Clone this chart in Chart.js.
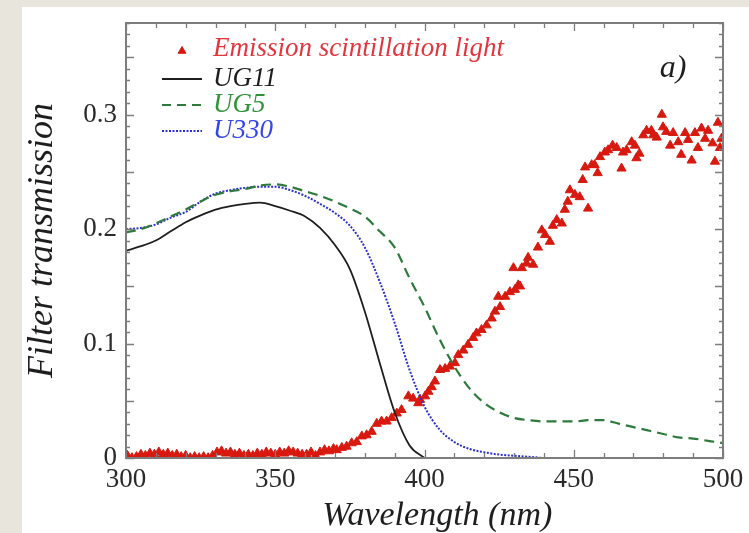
<!DOCTYPE html>
<html>
<head>
<meta charset="utf-8">
<script src="https://cdn.jsdelivr.net/npm/chart.js@4.4.0/dist/chart.umd.min.js"></script>
<style>
html, body { margin:0; padding:0; background:#e8e6dc; width:749px; height:533px; overflow:hidden; }
#panel { position:absolute; left:22px; top:7px; width:727px; height:526px; background:#fff; }
</style>
</head>
<body>
<div id="panel"><canvas id="chart" width="727" height="526"></canvas></div>
<script>
// filter curves (wavelength nm, transmission)
const ug11Wl = [300,305,310,315,320,325,330,335,340,345,350,355,360,365,370,375,380,385,390,395,400]
const ug11T = [0.181,0.185,0.190,0.198,0.206,0.212,0.217,0.220,0.222,0.223,0.220,0.216,0.211,0.201,0.186,0.165,0.128,0.083,0.040,0.011,0.000]

const ug5Wl = [300,305,310,315,320,325,330,335,340,345,350,355,360,365,370,375,380,385,390,395,400,405,410,415,420,425,430,435,440,445,450,455,460,465,470,475,480,485,490,495,500]
const ug5T = [0.197,0.200,0.205,0.211,0.217,0.224,0.230,0.233,0.235,0.238,0.239,0.237,0.233,0.229,0.224,0.218,0.211,0.198,0.184,0.157,0.132,0.104,0.080,0.061,0.048,0.040,0.035,0.033,0.032,0.032,0.032,0.033,0.033,0.030,0.027,0.024,0.021,0.018,0.017,0.015,0.013]

const u330Wl = [300,305,310,315,320,325,330,335,340,345,350,355,360,365,370,375,380,385,390,395,400,405,410,415,420,425,430,435,440]
const u330T = [0.200,0.201,0.204,0.210,0.215,0.224,0.231,0.234,0.236,0.237,0.237,0.234,0.229,0.222,0.214,0.203,0.184,0.154,0.118,0.077,0.045,0.025,0.014,0.008,0.005,0.003,0.002,0.001,0.000]

// emission scintillation light (measured points)
const emissionWl = [300.5,302,303.5,305,306.5,308,309.5,311,312.5,314,315.5,317,318.5,320,321.5,323,324.5,326,327.5,329,
330.5,332,333.5,335,336.5,338,339.5,341,342.5,344,345.5,347,348.5,350,351.5,353,354.5,356,357.5,
359,360.5,362,363.5,365,366.5,368,369.5,370.6,372.3,373.9,375.6,377.3,379,380.6,382.3,384,385.6,387.3,389,390.7,392.3,
394.6,396.2,397.9,398.5,400.2,401.3,402.4,403.5,405.2,406.9,408.5,410.2,411.3,413,414.6,416.3,417.4,419.1,420.8,422.5,
423.6,424.7,425.3,427,428.6,429.8,430.3,431.4,432,432.6,434.2,434.7,436.4,438,439.3,440.4,442,443,444.3,446,447,448,
448.7,450.4,452,453,453.8,454.8,456,457,458,458.8,460.4,461.5,463,464.4,466,466.5,467.7,469.4,470.5,471,472,473.3,
474.4,476,476.6,477.8,479.5,479.9,481,482.3,483.3,485,486,487.3,488.3,489.5,490.6,491.6,492.8,494,495,496.5,497.3,
498.3,499,499.5]
const emissionI = [0.002,0.000,0.001,0.003,0.002,0.004,0.003,0.005,0.003,0.004,0.002,0.003,0.001,0.002,0.000,0.001,0.000,0.001,0.000,0.002,
0.005,0.006,0.004,0.005,0.003,0.004,0.002,0.003,0.002,0.004,0.003,0.005,0.004,0.003,0.005,0.004,0.006,0.005,0.004,
0.003,0.003,0.005,0.002,0.005,0.007,0.006,0.008,0.007,0.009,0.010,0.013,0.014,0.019,0.020,0.023,0.030,0.032,0.032,0.035,0.039,0.042,
0.054,0.052,0.048,0.051,0.054,0.058,0.062,0.067,0.077,0.078,0.080,0.083,0.090,0.094,0.099,0.105,0.109,0.112,0.116,0.122,
0.128,0.141,0.132,0.141,0.145,0.166,0.147,0.151,0.150,0.166,0.170,0.175,0.169,0.184,0.199,0.195,0.189,0.203,0.208,0.205,0.217,0.224,
0.234,0.230,0.228,0.243,0.254,0.218,0.256,0.256,0.249,0.263,0.267,0.269,0.273,0.271,0.253,0.267,0.269,0.276,0.273,0.262,0.266,0.282,
0.286,0.286,0.282,0.280,0.300,0.289,0.285,0.273,0.284,0.276,0.265,0.284,0.278,0.260,0.284,0.271,0.288,0.279,0.286,0.275,0.259,
0.293,0.271,0.279]

const xTickLabels = [300, 350, 400, 450, 500]
const yTickLabels = [0, 0.1, 0.2, 0.3]

const legendNames = ["Emission scintillation light", "UG11", "UG5", "U330"]

const serif = "'Liberation Serif', 'DejaVu Serif', serif"

const toPoints = (xs, ys) => xs.map((x, i) => ({x: x, y: ys[i]}))


// frame with inward ticks on all four sides
const framePlugin = {
id: "frame",
afterDatasetsDraw(chart){

const ctx = chart.ctx
const {left, right, top, bottom} = chart.chartArea
const xs = chart.scales.x
const ys = chart.scales.y

ctx.save()
ctx.strokeStyle = "#7d7d7d"
ctx.lineWidth = 1.3
ctx.beginPath()

for (let v = 300; v <= 500; v += 10) {
const px = Math.round(xs.getPixelForValue(v)) + 0.5
const len = v % 50 === 0 ? 8 : 5
ctx.moveTo(px, bottom); ctx.lineTo(px, bottom - len)
ctx.moveTo(px, top); ctx.lineTo(px, top + len)
}

for (let i = 0; i <= 38; i++) {
const py = Math.round(ys.getPixelForValue(i / 100)) + 0.5
const len = i % 5 === 0 ? 8 : 4
ctx.moveTo(left, py); ctx.lineTo(left + len, py)
ctx.moveTo(right, py); ctx.lineTo(right - len, py)
}
ctx.stroke()

ctx.lineWidth = 2
ctx.strokeRect(left, top, right - left, bottom - top)
ctx.restore()

}
}


// legend inside the plot + panel label
const legendPlugin = {
id: "insideLegend",
afterDraw(chart){

const ctx = chart.ctx
const {left, top} = chart.chartArea
const rows = [top + 26, top + 56, top + 82, top + 108]
const textColors = ["#e2353e", "#1e1e1e", "#2f9438", "#3346e8"]

ctx.save()

// triangle marker
ctx.fillStyle = "#d8170f"
ctx.strokeStyle = "#d8170f"
Chart.helpers.drawPoint(ctx, {pointStyle: "triangle", radius: 4.5, borderWidth: 1}, left + 56, rows[0] + 2)

// line samples
const x0 = left + 36, x1 = left + 76
ctx.lineWidth = 2
ctx.strokeStyle = "#1e1e1e"; ctx.setLineDash([])
ctx.beginPath(); ctx.moveTo(x0, rows[1]); ctx.lineTo(x1, rows[1]); ctx.stroke()
ctx.strokeStyle = "#2e7a3c"; ctx.setLineDash([9, 6])
ctx.beginPath(); ctx.moveTo(x0, rows[2]); ctx.lineTo(x1, rows[2]); ctx.stroke()
ctx.strokeStyle = "#2a30d0"; ctx.setLineDash([2, 1.5])
ctx.beginPath(); ctx.moveTo(x0, rows[3]); ctx.lineTo(x1, rows[3]); ctx.stroke()
ctx.setLineDash([])

ctx.font = "italic 27px " + serif
ctx.textBaseline = "middle"
ctx.textAlign = "left"
legendNames.forEach((name, i) => {
ctx.fillStyle = textColors[i]
ctx.fillText(name, left + 87, rows[i])
})

ctx.font = "italic 32px " + serif
ctx.fillStyle = "#1e1e1e"
ctx.textAlign = "center"
ctx.fillText("a)", left + 547, top + 46)

ctx.restore()

}
}


const ctx = document.getElementById("chart").getContext("2d")

const chart = new Chart(ctx, {

type: "scatter",

data: {
datasets: [
{
label: legendNames[1],
data: toPoints(ug11Wl, ug11T),
showLine: true,
borderColor: "#1e1e1e",
borderWidth: 1.8,
pointRadius: 0,
cubicInterpolationMode: "monotone",
order: 1
},
{
label: legendNames[2],
data: toPoints(ug5Wl, ug5T),
showLine: true,
borderColor: "#2e7a3c",
borderWidth: 2.2,
borderDash: [10, 6],
pointRadius: 0,
cubicInterpolationMode: "monotone",
order: 2
},
{
label: legendNames[3],
data: toPoints(u330Wl, u330T),
showLine: true,
borderColor: "#2a30d0",
borderWidth: 2,
borderDash: [2, 1.5],
pointRadius: 0,
cubicInterpolationMode: "monotone",
order: 3
},
{
label: legendNames[0],
data: toPoints(emissionWl, emissionI),
showLine: false,
pointStyle: "triangle",
pointRadius: 5.3,
pointBackgroundColor: "#d8190f",
pointBorderColor: "#d8190f",
pointBorderWidth: 1,
clip: 0,
order: 4
}
]
},

options: {
responsive: false,
animation: false,
events: [],
layout: { padding: { left: 0, top: 16, right: 26, bottom: 0 } },
plugins: { legend: { display: false }, tooltip: { enabled: false } },
scales: {
x: {
type: "linear",
min: 300,
max: 500,
afterFit: (scale) => { scale.height = 75; scale.paddingLeft = 0; scale.paddingRight = 0 },
afterBuildTicks: (scale) => { scale.ticks = xTickLabels.map(v => ({value: v})) },
grid: { display: false, drawTicks: false },
border: { display: false },
ticks: {
autoSkip: false,
maxRotation: 0,
padding: 6,
color: "#2a2a2a",
font: { family: serif, size: 27 }
},
title: {
display: true,
text: "   Wavelength (nm)",
color: "#1e1e1e",
padding: { top: 0, bottom: 0 },
font: { family: serif, size: 34, style: "italic", lineHeight: 1 }
}
},
y: {
type: "linear",
min: 0,
max: 0.38,
afterFit: (scale) => { scale.width = 104; scale.paddingTop = 0; scale.paddingBottom = 0 },
afterBuildTicks: (scale) => { scale.ticks = yTickLabels.map(v => ({value: v})) },
grid: { display: false, drawTicks: false },
border: { display: false },
ticks: {
padding: 9,
color: "#2a2a2a",
font: { family: serif, size: 27 },
callback: (v) => v === 0 ? "0" : v.toFixed(1)
},
title: {
display: true,
text: "Filter transmission",
color: "#1e1e1e",
padding: { top: 3, bottom: 0 },
font: { family: serif, size: 36, style: "italic", lineHeight: 1 }
}
}
}
},

plugins: [framePlugin, legendPlugin]

})
</script>
</body>
</html>
